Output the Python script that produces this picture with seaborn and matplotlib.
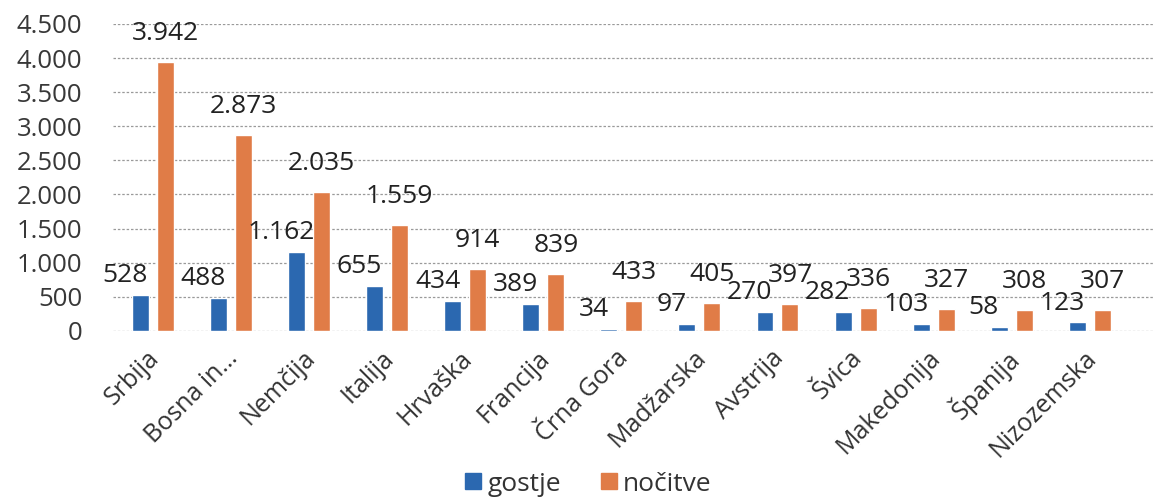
import matplotlib
matplotlib.use("Agg")
import matplotlib.pyplot as plt
import seaborn as sns
import pandas as pd
from matplotlib.ticker import FuncFormatter, MultipleLocator
from matplotlib.lines import Line2D
import matplotlib.transforms as mtransforms

countries = ["Srbija", "Bosna in…", "Nemčija", "Italija", "Hrvaška", "Francija",
             "Črna Gora", "Madžarska", "Avstrija", "Švica", "Makedonija",
             "Španija", "Nizozemska"]
gostje = [528, 488, 1162, 655, 434, 389, 34, 97, 270, 282, 103, 58, 123]
nocitve = [3942, 2873, 2035, 1559, 914, 839, 433, 405, 397, 336, 327, 308, 307]
series_names = ["gostje", "nočitve"]
colors = ["#2B68B0", "#E07C47"]

df = pd.DataFrame({
    "country": countries * 2,
    "series": [series_names[0]] * len(countries) + [series_names[1]] * len(countries),
    "value": gostje + nocitve,
})

sns.set_theme(style="white")
plt.rcParams["font.family"] = ["Open Sans", "DejaVu Sans"]

def fmt(v):
    return f"{int(round(v)):,}".replace(",", ".")

fig = plt.figure(figsize=(11.55, 4.99), dpi=100)
ax = fig.add_axes([0.0978, 0.337, 0.9004, 0.615])

sns.barplot(data=df, x="country", y="value", hue="series", order=countries,
            hue_order=series_names, palette=colors, saturation=1,
            width=0.64, gap=0.32, ax=ax, legend=False)

ax.set_ylim(0, 4500)
ax.set_xlim(-0.514, 12.81)
ax.yaxis.set_major_locator(MultipleLocator(500))
ax.yaxis.set_major_formatter(FuncFormatter(lambda v, p: fmt(v)))
ax.set_xlabel("")
ax.set_ylabel("")
for s in ax.spines.values():
    s.set_visible(False)
ax.grid(axis="y", linestyle=(0, (2, 1.5)), color="#9a9a9a", linewidth=0.9)
ax.set_axisbelow(True)
ax.tick_params(axis="y", length=0, pad=22, labelsize=18.5, labelcolor="#383838")
ax.tick_params(axis="x", length=0, pad=8, labelsize=18, labelcolor="#333333")
plt.setp(ax.get_xticklabels(), rotation=45, ha="right", rotation_mode="anchor",
         va="center")
for lbl in ax.get_xticklabels():
    lbl.set_transform(lbl.get_transform() +
                      mtransforms.ScaledTranslation(2 / 72, -9 / 72, fig.dpi_scale_trans))

# value labels
for container, vals, dx, dy in zip(ax.containers, [gostje, nocitve], [-11, 0], [14, 20.5]):
    for bar, v in zip(container, vals):
        x = bar.get_x() + bar.get_width() / 2
        ax.annotate(fmt(v), (x, bar.get_height()), xytext=(dx, dy),
                    textcoords="offset points", ha="center", va="center",
                    fontsize=19, color="#222222")

handles = [Line2D([0], [0], marker="s", linestyle="", markersize=12,
                  markerfacecolor=c, markeredgecolor=c) for c in colors]
fig.legend(handles, series_names, loc="center", bbox_to_anchor=(587 / 1155, 0.03),
           ncol=2, frameon=False, fontsize=19, handletextpad=0.15,
           columnspacing=1.4, handlelength=0.8, labelcolor="#333333")

fig.savefig("out.png", dpi=100)
